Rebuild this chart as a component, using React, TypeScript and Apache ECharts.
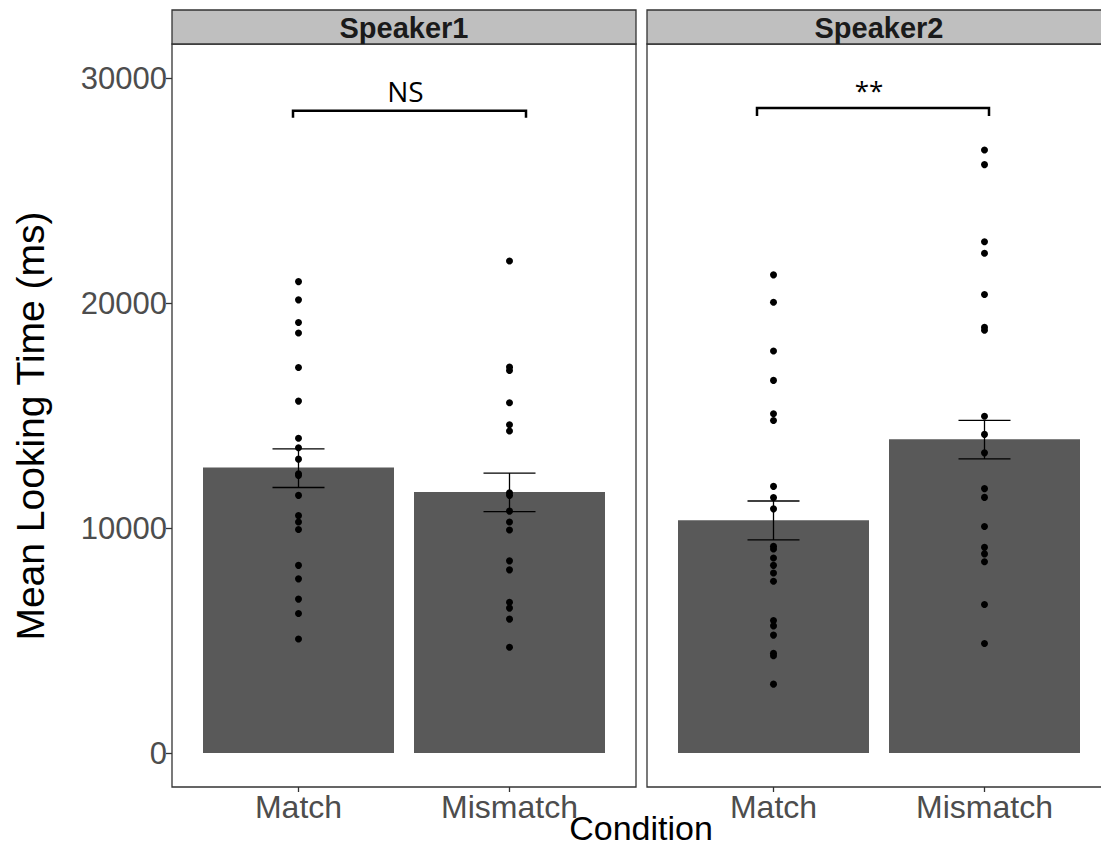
import React, { useEffect, useRef } from "react";
import * as echarts from "echarts";

// ---- data ----
const conditions = ["Match", "Mismatch"];
const speakers = ["Speaker1", "Speaker2"];

const speaker1Match = [20950, 20140, 19130, 18670, 17130, 15640, 13990, 13570, 13060, 12410, 12330, 11450, 10550, 10270, 9930, 8340, 7740, 6840, 6200, 5070];
const speaker1Mismatch = [21870, 17150, 17000, 15570, 14590, 14310, 11570, 11450, 10750, 10270, 9910, 8540, 8140, 6700, 6440, 5950, 4700];
const speaker2Match = [21250, 20030, 17870, 16560, 15080, 14780, 11850, 11350, 10850, 9190, 9070, 8670, 8340, 8000, 7630, 5890, 5650, 5240, 4430, 4320, 3060];
const speaker2Mismatch = [26800, 26150, 22720, 22210, 20380, 18920, 18790, 14970, 14160, 13340, 11750, 11360, 10070, 9140, 8850, 8500, 6600, 4870];

const speaker1Means = [12690, 11600];
const speaker2Means = [10340, 13940];
const speaker1ErrLow = [11800, 10730];
const speaker1ErrHigh = [13520, 12440];
const speaker2ErrLow = [9470, 13070];
const speaker2ErrHigh = [11200, 14780];

const bracketLevels = [28540, 28670];
const bracketTips = [28230, 28310];
const sigLabels = ["NS", "**"];
const sigLabelLevels = [29420, 29450];

const yMin = 0;
const yMax = 30000;
const yInterval = 10000;

// ---- styles ----
const FONT = "'Liberation Sans', Arial, sans-serif";
const TICK_COLOR = "#4d4d4d";
const BORDER = "#333333";
const bracketOffsets = [
  [-5.5, 16.5],
  [-16.5, 4.5],
];

export default function App() {
  const ref = useRef<HTMLDivElement>(null);

  useEffect(() => {
    if (!ref.current) return;
    const chart = echarts.init(ref.current, undefined, { renderer: "svg" });

    const panels = [
      { means: speaker1Means, lo: speaker1ErrLow, hi: speaker1ErrHigh, pts: [speaker1Match, speaker1Mismatch] },
      { means: speaker2Means, lo: speaker2ErrLow, hi: speaker2ErrHigh, pts: [speaker2Match, speaker2Mismatch] },
    ];

    const grids = [
      { left: 193, width: 422, top: 78, height: 675 },
      { left: 668, width: 422, top: 78, height: 675 },
    ];

    const xAxes = grids.map((_, i) => ({
      type: "category",
      gridIndex: i,
      data: conditions,
      offset: 34,
      axisLine: { show: false, onZero: false },
      axisTick: { show: true, alignWithLabel: true, length: 5, lineStyle: { color: BORDER, width: 1.3 } },
      axisLabel: { fontSize: 32, color: TICK_COLOR, fontFamily: FONT, margin: 4 },
      splitLine: { show: false },
    }));

    const yAxes = grids.map((_, i) => ({
      type: "value",
      gridIndex: i,
      min: yMin,
      max: yMax,
      interval: yInterval,
      offset: 21,
      axisLine: { show: false },
      axisTick: { show: i === 0, length: 6, lineStyle: { color: BORDER, width: 1.3 } },
      axisLabel: {
        show: i === 0,
        fontSize: 31,
        color: TICK_COLOR,
        fontFamily: FONT,
        margin: 5,
        formatter: (v: number) => String(v),
      },
      splitLine: { show: false },
    }));

    const series: any[] = [];
    panels.forEach((p, i) => {
      series.push({
        type: "bar",
        xAxisIndex: i,
        yAxisIndex: i,
        data: p.means,
        barWidth: 191,
        itemStyle: { color: "#595959" },
        z: 1,
      });
      series.push({
        type: "scatter",
        xAxisIndex: i,
        yAxisIndex: i,
        data: p.pts.flatMap((arr, ci) => arr.map((v) => [ci, v])),
        symbol: "circle",
        symbolSize: 7,
        itemStyle: { color: "#000000", opacity: 1 },
        z: 3,
      });
      series.push({
        type: "custom",
        xAxisIndex: i,
        yAxisIndex: i,
        data: p.lo.map((lo, ci) => [ci, lo, p.hi[ci]]),
        z: 4,
        renderItem: (params: any, api: any) => {
          const top = api.coord([api.value(0), api.value(2)]);
          const bot = api.coord([api.value(0), api.value(1)]);
          const hw = 26;
          const st = { stroke: "#000", lineWidth: 1.3 };
          return {
            type: "group",
            children: [
              { type: "line", shape: { x1: top[0], y1: top[1], x2: bot[0], y2: bot[1] }, style: st },
              { type: "line", shape: { x1: top[0] - hw, y1: top[1], x2: top[0] + hw, y2: top[1] }, style: st },
              { type: "line", shape: { x1: bot[0] - hw, y1: bot[1], x2: bot[0] + hw, y2: bot[1] }, style: st },
            ],
          };
        },
      });
      series.push({
        type: "custom",
        xAxisIndex: i,
        yAxisIndex: i,
        data: [[0, 1, bracketLevels[i], bracketTips[i], sigLabelLevels[i]]],
        z: 5,
        renderItem: (params: any, api: any) => {
          const a = api.coord([api.value(0), api.value(2)]);
          const b = api.coord([api.value(1), api.value(2)]);
          const tip = api.coord([api.value(0), api.value(3)]);
          const lab = api.coord([api.value(0), api.value(4)]);
          const [o0, o1] = bracketOffsets[i];
          const x0 = a[0] + o0;
          const x1 = b[0] + o1;
          return {
            type: "group",
            children: [
              {
                type: "polyline",
                shape: { points: [[x0, tip[1]], [x0, a[1]], [x1, a[1]], [x1, tip[1]]] },
                style: { stroke: "#000", lineWidth: 2.5, fill: "none" },
              },
              {
                type: "text",
                x: (x0 + x1) / 2 - 4,
                y: lab[1],
                style: {
                  text: sigLabels[i],
                  fontSize: i === 0 ? 28 : 26,
                  fontFamily: "'Open Sans', sans-serif",
                  fill: "#000",
                  align: "center",
                  verticalAlign: "middle",
                },
              },
            ],
          };
        },
      });
    });

    const panelRects = [
      { x: 172, w: 464 },
      { x: 647, w: 480 },
    ];

    const graphic: any[] = [];
    panelRects.forEach((r, i) => {
      graphic.push({
        type: "rect",
        shape: { x: r.x, y: 44, width: r.w, height: 743 },
        style: { fill: "none", stroke: BORDER, lineWidth: 1.3 },
        z: 10,
      });
      graphic.push({
        type: "rect",
        shape: { x: r.x, y: 10, width: r.w, height: 34 },
        style: { fill: "#bfbfbf", stroke: BORDER, lineWidth: 1.3 },
        z: 10,
      });
      graphic.push({
        type: "text",
        x: i === 0 ? 404 : 879,
        y: 28,
        style: {
          text: speakers[i],
          fontSize: 29,
          fontWeight: "bold",
          fontFamily: FONT,
          fill: "#1a1a1a",
          align: "center",
          verticalAlign: "middle",
        },
        z: 11,
      });
    });
    graphic.push({
      type: "text",
      x: 30,
      y: 426,
      rotation: Math.PI / 2,
      style: {
        text: "Mean Looking Time (ms)",
        fontSize: 39,
        fontFamily: FONT,
        fill: "#000",
        align: "center",
        verticalAlign: "middle",
      },
    });
    graphic.push({
      type: "text",
      x: 641,
      y: 828,
      style: {
        text: "Condition",
        fontSize: 34,
        fontFamily: FONT,
        fill: "#000",
        align: "center",
        verticalAlign: "middle",
      },
    });

    chart.setOption({
      animation: false,
      backgroundColor: "#ffffff",
      grid: grids,
      xAxis: xAxes,
      yAxis: yAxes,
      series,
      graphic,
    });

    return () => chart.dispose();
  }, []);

  return (
    <div
      ref={ref}
      style={{ position: "fixed", left: 0, top: 0, width: 1101, height: 847 }}
    />
  );
}
